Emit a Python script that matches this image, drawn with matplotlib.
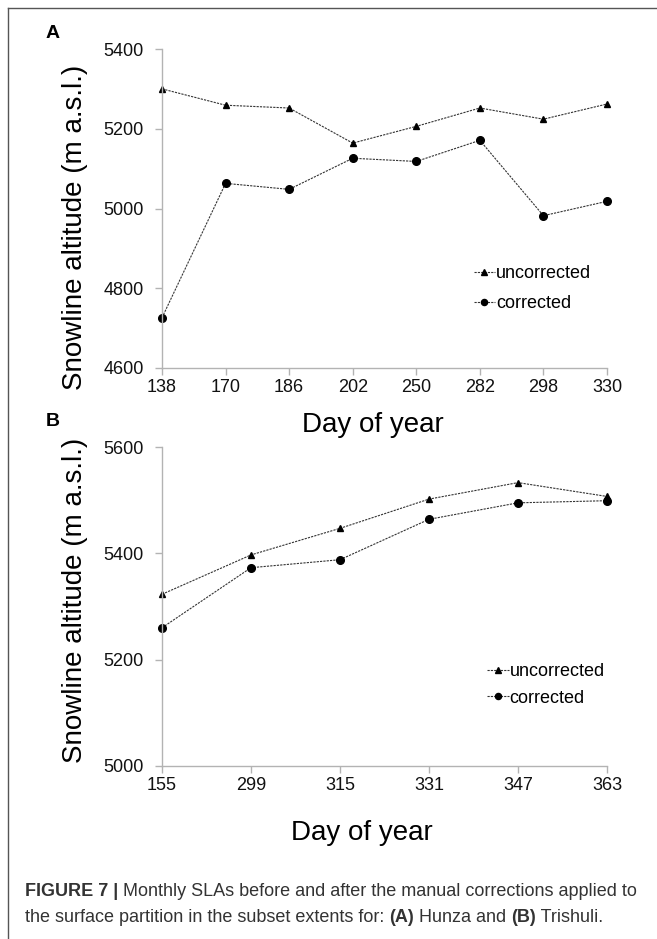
import numpy as np
import matplotlib
matplotlib.use("Agg")
import matplotlib.pyplot as plt
from matplotlib.lines import Line2D

plt.rcParams['font.family'] = ['Liberation Sans', 'DejaVu Sans']

# ---------- data ----------
days_a = ["138", "170", "186", "202", "250", "282", "298", "330"]
uncorr_a = [5300, 5259, 5252, 5164, 5206, 5252, 5224, 5262]
corr_a = [4726, 5063, 5048, 5126, 5118, 5171, 4982, 5018]

days_b = ["155", "299", "315", "331", "347", "363"]
uncorr_b = [5323, 5397, 5447, 5502, 5533, 5507]
corr_b = [5260, 5373, 5388, 5464, 5495, 5499]

yticks_a = [4600, 4800, 5000, 5200, 5400]
yticks_b = [5000, 5200, 5400, 5600]

W, H = 657, 939
SPINE = "#b3b3b3"


def fx(px):
    return px / W


def fy(py):
    return 1 - py / H


def style_axes(ax, cats, yticks):
    x = np.arange(len(cats))
    ax.set_xlim(0, len(cats) - 1)
    ax.set_ylim(yticks[0], yticks[-1])
    ax.set_xticks(x)
    ax.set_xticklabels(cats)
    ax.set_yticks(yticks)
    for s in ["top", "right"]:
        ax.spines[s].set_visible(False)
    for s in ["left", "bottom"]:
        ax.spines[s].set_color(SPINE)
        ax.spines[s].set_linewidth(1.0)
    ax.tick_params(axis="both", colors=SPINE, labelcolor="#111111",
                   labelsize=13, length=5, width=1.0, direction="out")
    ax.tick_params(axis="y", pad=8)
    ax.tick_params(axis="x", pad=3)


def draw_series(ax, cats, unc, cor):
    x = np.arange(len(cats))
    ax.plot(x, unc, linestyle=(0, (2, 1)), color="#333333", lw=0.8,
            marker="^", ms=5, mfc="black", mec="black", label="uncorrected",
            clip_on=False)
    ax.plot(x, cor, linestyle=(0, (2, 1)), color="#333333", lw=0.8,
            marker="o", ms=5.5, mfc="black", mec="black", label="corrected",
            clip_on=False)


def add_legend(ax, x0, y0, spacing):
    leg = ax.legend(loc="center left", bbox_to_anchor=(x0, y0), frameon=False,
                    fontsize=13, handlelength=1.2, handletextpad=0.05,
                    labelspacing=spacing, borderpad=0, markerscale=0.8)
    return leg


fig = plt.figure(figsize=(W / 100, H / 100), dpi=100)

# panel A
ax_a = fig.add_axes([fx(162), fy(368), fx(607 - 162), (368 - 49) / H])
draw_series(ax_a, days_a, uncorr_a, corr_a)
style_axes(ax_a, days_a, yticks_a)
ax_a.set_ylabel("Snowline altitude (m a.s.l.)", fontsize=20)
ax_a.yaxis.set_label_coords(-0.166, 0.44)
ax_a.set_xlabel("Day of year", fontsize=20)
ax_a.xaxis.set_label_coords(0.474, -0.138)
add_legend(ax_a, 0.68, 0.248, 0.72)

# panel B
ax_b = fig.add_axes([fx(162), fy(766), fx(607 - 162), (766 - 447) / H])
draw_series(ax_b, days_b, uncorr_b, corr_b)
style_axes(ax_b, days_b, yticks_b)
ax_b.set_ylabel("Snowline altitude (m a.s.l.)", fontsize=20)
ax_b.yaxis.set_label_coords(-0.166, 0.52)
ax_b.set_xlabel("Day of year", fontsize=20)
ax_b.xaxis.set_label_coords(0.449, -0.17)
add_legend(ax_b, 0.71, 0.254, 0.52)

# panel letters
fig.text(fx(53), fy(34), "A", fontsize=14, fontweight="bold", ha="center", va="center")
fig.text(fx(53), fy(422), "B", fontsize=14, fontweight="bold", ha="center", va="center")

# frame (left and top edges)
fig.add_artist(Line2D([fx(8), fx(8)], [fy(8), 0], color="#555555", lw=1.0))
fig.add_artist(Line2D([fx(8), 1], [fy(8), fy(8)], color="#555555", lw=1.0))

# caption, drawn piece by piece so the bold parts line up
renderer = fig.canvas.get_renderer()
CAP = "#333333"


def chain(pieces, x0, y0):
    x = x0
    for txt, bold in pieces:
        t = fig.text(x, y0, txt, fontsize=13, color=CAP, va="center",
                     fontweight="bold" if bold else "normal")
        bb = t.get_window_extent(renderer=renderer)
        x = x + bb.width / W


chain([("FIGURE 7 | ", True),
       ("Monthly SLAs before and after the manual corrections applied to", False)],
      fx(25), fy(891))
chain([("the surface partition in the subset extents for: ", False),
       ("(A)", True), (" Hunza and ", False), ("(B)", True), (" Trishuli.", False)],
      fx(25), fy(917))

fig.savefig("out.png", dpi=100)
